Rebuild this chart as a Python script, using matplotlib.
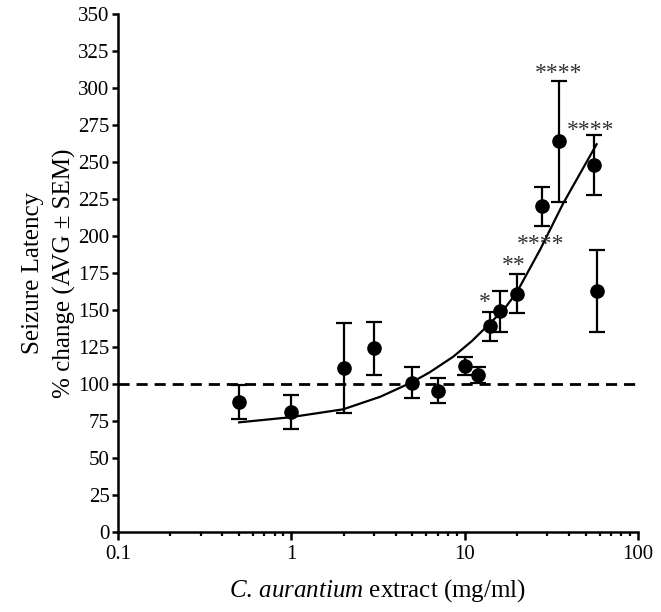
"""Seizure latency vs. C. aurantium extract dose (log x)."""
import numpy as np
import matplotlib
matplotlib.use('Agg')
from matplotlib import pyplot as plt
from matplotlib.ticker import FixedLocator, LogLocator, FuncFormatter, NullFormatter

plt.rcParams['font.family'] = ['Liberation Serif', 'DejaVu Serif']
plt.rcParams['mathtext.fontset'] = 'custom'
plt.rcParams['mathtext.rm'] = 'Liberation Serif'
plt.rcParams['mathtext.it'] = 'Liberation Serif:italic'

# dose (mg/ml), mean % change and SEM
dose = [0.5, 1, 2, 3, 5, 7, 10, 12, 14, 16, 20, 28, 35, 56, 58]
latency = [88, 81, 111, 124, 101, 95.5, 112, 106, 139, 149, 161, 220, 264, 248, 163]
sem = [11.5, 11.6, 30.5, 17.6, 10.2, 8.4, 6, 5.5, 9.6, 14, 13, 13, 41, 20, 27.7]

# fitted curve
fit_x = [0.5, 0.98, 1.99, 3.26, 4.95, 6.3, 8.6, 11.0, 14.0, 17.0, 20.0, 27.3, 37.0, 57.7]
fit_y = [74.1, 77.5, 82.9, 91.4, 101.1, 108, 118.5, 129, 141, 151, 162, 191, 222, 262]

# significance marks
star_x = [13.0, 19.3, 27.4, 35.0, 53.3]
star_y = [155, 180, 194, 310, 271]
star_txt = ['*', '**', '****', '****', '****']

fig = plt.figure(figsize=(6.61, 6.12), dpi=100)
ax = fig.add_axes([0.1785, 0.1307, 0.7867, 0.8464])

ax.axhline(100, color='black', lw=2, ls=(0, (4, 2.5)), zorder=1)
ax.plot(fit_x, fit_y, color='black', lw=1.6, zorder=2)
ax.errorbar(dose, latency, yerr=sem, fmt='o', color='black', ms=9.5,
            elinewidth=1.6, capsize=5.5, capthick=1.6, zorder=3)

for x, y, t in zip(star_x, star_y, star_txt):
    ax.text(x, y, t, ha='center', va='center', fontsize=17, color='#333333')

ax.set_xscale('log')
ax.set_xlim(0.1, 100)
ax.set_ylim(0, 350)
ax.set_yticks(np.arange(0, 351, 25))
ax.xaxis.set_major_locator(FixedLocator([0.1, 1, 10, 100]))
ax.xaxis.set_major_formatter(FuncFormatter(lambda v, p: '%g' % v))
ax.xaxis.set_minor_locator(LogLocator(base=10, subs=np.arange(2, 10)))
ax.xaxis.set_minor_formatter(NullFormatter())

for side in ['top', 'right']:
    ax.spines[side].set_visible(False)
for side in ['left', 'bottom']:
    ax.spines[side].set_linewidth(1.8)

ax.tick_params(axis='both', which='major', direction='out', width=1.8,
               labelsize=15, length=4, pad=2)
ax.tick_params(axis='x', which='major', length=6, pad=3)
ax.tick_params(axis='x', which='minor', direction='out', width=1.6, length=3)

ax.set_ylabel('Seizure Latency\n% change (AVG ± SEM)', fontsize=18,
              linespacing=1.45, labelpad=2)
ax.set_xlabel(r'$\it{C.\,aurantium}$ extract (mg/ml)', fontsize=18,
              labelpad=10)

fig.savefig('out.png', dpi=100)
